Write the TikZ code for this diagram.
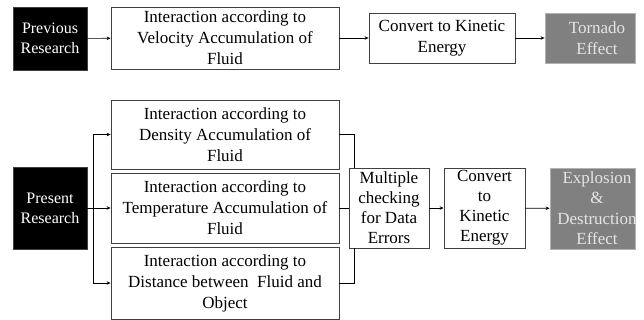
\documentclass[tikz,border=0pt]{standalone}
\usepackage{fontspec}
\setmainfont{Liberation Serif}
\usetikzlibrary{arrows.meta}
\begin{document}
\begin{tikzpicture}[x=1pt,y=-1pt,
  box/.style={draw=black!75,line width=0.8pt,fill=white,align=center,inner sep=0pt,
    font=\fontsize{17}{21}\selectfont},
  darkbox/.style={draw=black!75,line width=0.8pt,fill=black,text=white,align=center,inner sep=0pt,
    font=\fontsize{16}{20}\selectfont},
  greybox/.style={draw=black!30,line width=0.8pt,fill=black!50,inner sep=0pt},
  greytext/.style={text=black!10,align=center,font=\fontsize{17}{20.5}\selectfont},
  arr/.style={line width=0.7pt,-{Stealth[length=4pt,width=3.5pt]}},
  ln/.style={line width=0.7pt}]
\useasboundingbox (0,0) rectangle (644,320);
% top row
\node[darkbox,minimum width=74,minimum height=63] (prev) at (50,38.5) {Previous\\Research};
\node[box,minimum width=228,minimum height=62] (vel) at (225,38) {Interaction according to\\Velocity Accumulation of\\Fluid};
\node[box,minimum width=146,minimum height=50] (conv1) at (442,38) {Convert to Kinetic\\Energy};
\node[greybox,minimum width=90,minimum height=50] (torn) at (590,38) {};
\node[greytext] (torntext) at (597,38) {Tornado\\Effect};
\draw[arr] (prev) -- (vel);
\draw[arr] (vel) -- (conv1);
\draw[arr] (conv1) -- (torn);
% bottom
\node[darkbox,minimum width=74,minimum height=82] (pres) at (50,208) {Present\\Research};
\node[box,minimum width=228,minimum height=69] (dens) at (225,134.5) {Interaction according to\\Density Accumulation of\\Fluid};
\node[box,minimum width=228,minimum height=70] (temp) at (225,208) {Interaction according to\\Temperature Accumulation of\\Fluid};
\node[box,minimum width=228,minimum height=72] (dist) at (225,283) {Interaction according to\\Distance between\ \ Fluid and\\Object};
\node[box,minimum width=80,minimum height=80,font=\fontsize{17}{20}\selectfont] (mult) at (389,208) {Multiple\\checking\\for Data\\Errors};
\node[box,minimum width=81,minimum height=80,font=\fontsize{17}{20}\selectfont] (conv2) at (484.5,208) {Convert\\to\\Kinetic\\Energy};
\node[greybox,minimum width=85,minimum height=81] (expl) at (592.5,208.5) {};
\begin{scope}
\clip (expl.south west) rectangle (expl.north east);
\node[greytext] (expltext) at (597,208) {Explosion\\\&\\Destruction\\Effect};
\end{scope}
\draw[arr] (pres.east) -- ++(6,0) |- (dens.west);
\draw[arr] (pres.east) -- (temp.west);
\draw[arr] (pres.east) -- ++(6,0) |- (dist.west);
\draw[ln] (dens.east) -| ([xshift=6pt]mult.north west);
\draw[ln] (temp.east) -- (mult.west);
\draw[ln] (dist.east) -| ([xshift=6pt]mult.south west);
\draw[arr] (mult) -- (conv2);
\draw[arr] (conv2) -- (expl);
\end{tikzpicture}
\end{document}
